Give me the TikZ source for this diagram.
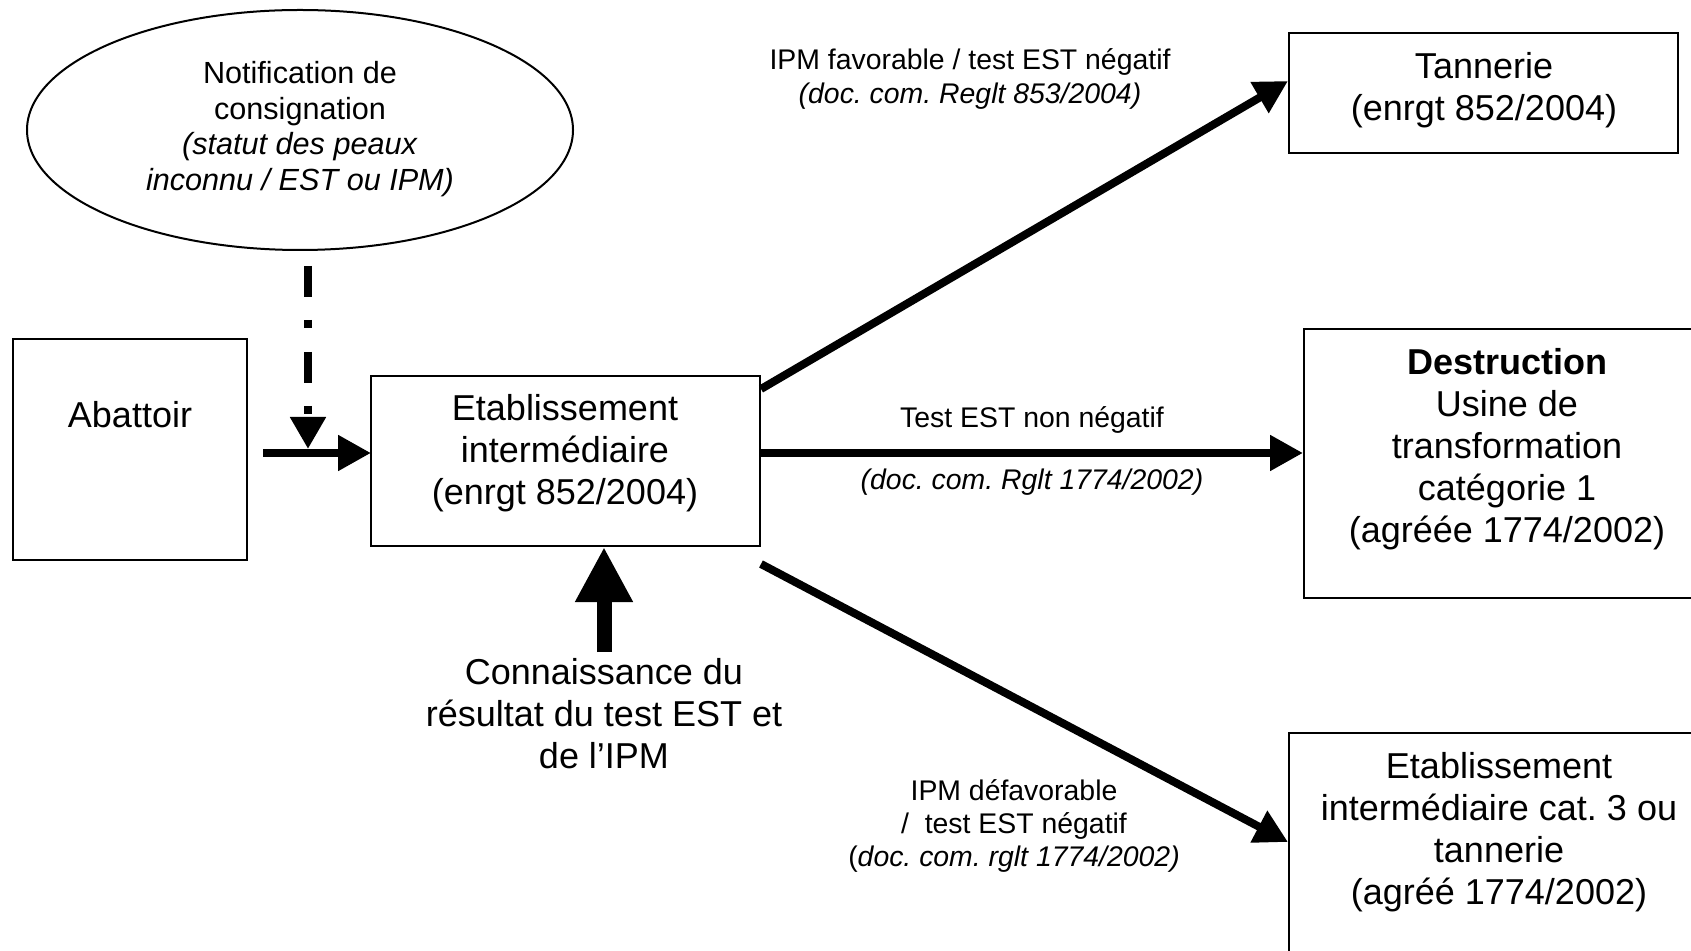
\documentclass[tikz,border=0pt]{standalone}
\usepackage{fontspec}
\setmainfont{Liberation Sans}
\usetikzlibrary{arrows.meta,shapes.geometric,calc}
\frenchspacing
\begin{document}
\begin{tikzpicture}[x=0.5pt,y=-0.5pt,
  box/.style={draw=black, line width=1pt, inner sep=0pt},
  big/.style={font=\fontsize{18}{21}\selectfont, align=center, inner sep=0pt},
  mid/.style={font=\fontsize{15.3}{17.8}\selectfont, align=center, inner sep=0pt},
  lab/.style={font=\fontsize{14.2}{16.6}\selectfont, align=center, inner sep=0pt},
  flowarrow/.style={line width=4pt, -{Triangle[length=16.5pt,width=17pt]}},
]
\useasboundingbox (0,0) rectangle (1691,951);
\clip (0,0) rectangle (1691,951);

% ellipse
\node[box, ellipse, minimum width=273pt, minimum height=120pt] (notif) at (300,130) {};
\node[mid] (notiftxt) at (300,129) {Notification de\\consignation\\\textit{(statut des peaux}\\\textit{inconnu / EST ou IPM)}};

% boxes
\node[box, minimum width=117pt, minimum height=110.5pt] (abat) at (130,449.5) {};
\node[big] (abattxt) at (130,415) {Abattoir};

\node[box, minimum width=194.5pt, minimum height=85pt] (etab) at (565.5,461) {};
\node[big] (etabtxt) at (565,453) {Etablissement\\intermédiaire\\(enrgt 852/2004)};

\node[box, minimum width=194.5pt, minimum height=60pt] (tann) at (1483.5,93) {};
\node[big] (tanntxt) at (1484,90) {Tannerie\\(enrgt 852/2004)};

\node[box, minimum width=208pt, minimum height=134.5pt] (destr) at (1512,463.5) {};
\node[big] (destrtxt) at (1507,449.5) {\textbf{Destruction}\\Usine de\\transformation\\catégorie 1\\(agréée 1774/2002)};

\node[box, minimum width=215.5pt, minimum height=128.5pt] (inter) at (1504.5,861.5) {};
\node[big] (intertxt) at (1499,832) {Etablissement\\intermédiaire cat. 3 ou\\tannerie\\(agréé 1774/2002)};

\node[big] (conn) at (604,714) {Connaissance du\\résultat du test EST et\\de l’IPM};

% labels
\node[lab] (l1) at (970,79) {IPM favorable / test EST négatif\\\textit{(doc. com. Reglt 853/2004)}};
\node[lab] (l2) at (1032,420) {Test EST non négatif};
\node[lab] (l3) at (1032,482) {\textit{(doc. com. Rglt 1774/2002)}};
\node[lab] (l4) at (1014,826) {IPM défavorable\\/\ \ test EST négatif\\(\textit{doc. com. rglt 1774/2002)}};

% connectors
\coordinate (inY) at (371,453);
\draw[flowarrow] ($(abat.east |- inY)+(15,0)$) -- (inY);
\draw[flowarrow] (etab.east |- inY) -- (destr.west |- inY);
\draw[flowarrow] ([yshift=-7pt]etab.north east) -- ([yshift=6pt]tann.west);
\draw[flowarrow] ([yshift=-8.5pt]etab.south east) -- ([yshift=9.75pt]inter.west);

\coordinate (dTop) at (308,266);
\coordinate (dEnd) at (308,449);
\draw[line width=4pt, dash pattern=on 15.5pt off 11.5pt on 4pt off 12pt, -{Triangle[length=16pt,width=17pt]}] (dTop) -- (dEnd);

\coordinate (connTop) at (604,652);
\draw[line width=7.5pt, -{Triangle[length=27.5pt,width=27pt]}] (connTop) -- (connTop |- etab.south);
\end{tikzpicture}
\end{document}
